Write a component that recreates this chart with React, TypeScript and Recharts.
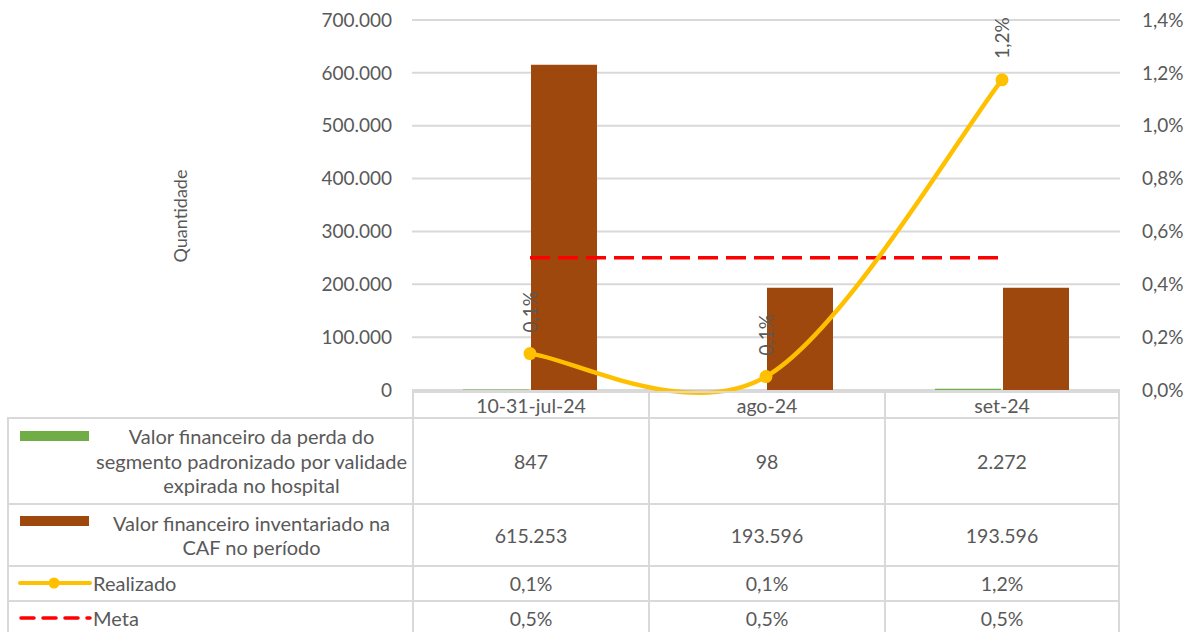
import React from "react";
import { ComposedChart, Bar, Line, XAxis, YAxis, CartesianGrid, LabelList, Label } from "recharts";

const categories = ["10-31-jul-24", "ago-24", "set-24"];
const perda = [847, 98, 2272];
const inventariado = [615253, 193596, 193596];
const meta = [0.005, 0.005, 0.005];
const leftTicks = [0, 100000, 200000, 300000, 400000, 500000, 600000, 700000];
const rightTicks = [0, 0.002, 0.004, 0.006, 0.008, 0.01, 0.012, 0.014];

const seriesNames = [
  "Valor financeiro da perda do segmento padronizado por validade expirada no hospital",
  "Valor financeiro inventariado na CAF no período",
  "Realizado",
  "Meta",
];

const data = categories.map((c, i) => ({
  name: c,
  perda: perda[i],
  inventariado: inventariado[i],
  realizado: perda[i] / inventariado[i],
  meta: meta[i],
}));

const FONT = "Lato, 'Noto Sans', sans-serif";
const TEXT = "#595959";
const GRID = "#d9d9d9";

const fmtNum = (n: number) => Math.round(n).toString().replace(/\B(?=(\d{3})+(?!\d))/g, ".");
const fmtPct = (v: number) => (v * 100).toFixed(1).replace(".", ",") + "%";

const PLOT_LEFT = 412;
const PLOT_RIGHT = 1120;
const PLOT_TOP = 20;
const PLOT_BOTTOM = 390;
const COL_W = (PLOT_RIGHT - PLOT_LEFT) / 3;

// Excel-style smoothed line (Catmull-Rom as cubic beziers)
function excelSmooth(context: any) {
  let pts: [number, number][] = [];
  return {
    areaStart() {},
    areaEnd() {},
    lineStart() {
      pts = [];
    },
    point(x: number, y: number) {
      pts.push([+x, +y]);
    },
    lineEnd() {
      if (!pts.length) return;
      context.moveTo(pts[0][0], pts[0][1]);
      for (let i = 0; i < pts.length - 1; i++) {
        const p0 = pts[i - 1] ?? pts[i];
        const p1 = pts[i];
        const p2 = pts[i + 1];
        const p3 = pts[i + 2] ?? pts[i + 1];
        context.bezierCurveTo(
          p1[0] + (p2[0] - p0[0]) / 6,
          p1[1] + (p2[1] - p0[1]) / 6,
          p2[0] - (p3[0] - p1[0]) / 6,
          p2[1] - (p3[1] - p1[1]) / 6,
          p2[0],
          p2[1]
        );
      }
    },
  };
}

function RotLabel(props: any) {
  const { x, y, value } = props;
  const tx = x + 7;
  const ty = y - 21;
  return (
    <text
      x={tx}
      y={ty}
      transform={`rotate(-90 ${tx} ${ty})`}
      fill={TEXT}
      fontSize={19}
      fontFamily={FONT}
      textAnchor="start"
    >
      {fmtPct(value)}
    </text>
  );
}

function LegendKey({ kind }: { kind: number }) {
  if (kind === 0 || kind === 1) {
    return (
      <div
        style={{
          position: "absolute",
          left: 11,
          top: kind === 0 ? 12 : 11,
          width: 69,
          height: 10,
          background: kind === 0 ? "#70AD47" : "#9E480E",
        }}
      />
    );
  }
  if (kind === 2) {
    return (
      <svg style={{ position: "absolute", left: 9, top: 7 }} width={74} height={18}>
        <line x1={2} y1={9} x2={72} y2={9} stroke="#FFC000" strokeWidth={4} strokeLinecap="round" />
        <circle cx={36} cy={9} r={5.5} fill="#FFC000" />
      </svg>
    );
  }
  return (
    <svg style={{ position: "absolute", left: 9, top: 7 }} width={74} height={18}>
      <line x1={3} y1={9} x2={72} y2={9} stroke="#FF0000" strokeWidth={3.5} strokeDasharray="13 9" strokeLinecap="round" />
    </svg>
  );
}

const rowTops = [417, 503, 565, 600];
const rowHeights = [86, 62, 35, 40];

function DataTable() {
  const rowValues = [
    perda.map(fmtNum),
    inventariado.map(fmtNum),
    data.map((d) => fmtPct(d.realizado)),
    meta.map(fmtPct),
  ];
  const border = `2px solid ${GRID}`;
  const cells: React.ReactNode[] = [];
  categories.forEach((c, i) => {
    cells.push(
      <div
        key={"h" + i}
        style={{
          position: "absolute",
          left: PLOT_LEFT + i * COL_W,
          top: 391,
          width: COL_W,
          height: 26,
          borderTop: border,
          borderLeft: border,
          borderRight: i === 2 ? border : undefined,
          boxSizing: "border-box",
          display: "flex",
          alignItems: "center",
          justifyContent: "center",
          fontSize: 19.5,
        }}
      >
        {c}
      </div>
    );
  });
  rowValues.forEach((vals, r) => {
    cells.push(
      <div
        key={"l" + r}
        style={{
          position: "absolute",
          left: 7,
          top: rowTops[r],
          width: PLOT_LEFT - 7,
          height: rowHeights[r],
          borderTop: border,
          borderLeft: border,
          boxSizing: "border-box",
        }}
      >
        <LegendKey kind={r} />
        <div
          style={{
            position: "absolute",
            left: 82,
            right: 0,
            top: 0,
            bottom: r === 3 ? 6 : 0,
            display: "flex",
            alignItems: "center",
            justifyContent: r < 2 ? "center" : "flex-start",
            textAlign: "center",
            lineHeight: "24.5px",
            fontSize: 20,
            whiteSpace: "nowrap",
            padding: r < 2 ? "0" : "0 0 0 2px",
          }}
        >
          {r === 0 ? (
            <span>
              Valor financeiro da perda do
              <br />
              segmento padronizado por validade
              <br />
              expirada no hospital
            </span>
          ) : r === 1 ? (
            <span>
              Valor financeiro inventariado na
              <br />
              CAF no período
            </span>
          ) : (
            <span>{seriesNames[r]}</span>
          )}
        </div>
      </div>
    );
    vals.forEach((v, i) => {
      cells.push(
        <div
          key={"c" + r + "-" + i}
          style={{
            position: "absolute",
            left: PLOT_LEFT + i * COL_W,
            top: rowTops[r],
            width: COL_W,
            height: rowHeights[r],
            borderTop: border,
            borderLeft: border,
            borderRight: i === 2 ? border : undefined,
            boxSizing: "border-box",
            display: "flex",
            alignItems: "center",
            justifyContent: "center",
            paddingBottom: r === 3 ? 6 : 0,
            fontSize: 19.5,
          }}
        >
          {v}
        </div>
      );
    });
  });
  return <>{cells}</>;
}

export default function App() {
  return (
    <div
      style={{
        position: "absolute",
        left: 0,
        top: 0,
        width: 1187,
        height: 632,
        overflow: "hidden",
        background: "#fff",
        fontFamily: FONT,
        color: TEXT,
      }}
    >
      <ComposedChart
        width={1187}
        height={632}
        data={data}
        margin={{ top: PLOT_TOP, right: 0, left: 0, bottom: 632 - PLOT_BOTTOM }}
        barGap={2}
        barSize={66}
      >
        <CartesianGrid yAxisId="left" vertical={false} stroke={GRID} strokeWidth={2} />
        <XAxis dataKey="name" hide />
        <YAxis
          yAxisId="left"
          orientation="left"
          width={PLOT_LEFT}
          domain={[0, 700000]}
          ticks={leftTicks}
          tickFormatter={fmtNum}
          axisLine={false}
          tickLine={false}
          tickMargin={14}
          tick={{ fontSize: 19, fill: TEXT, fontFamily: FONT }}
          interval={0}
        >
          <Label
            value="Quantidade"
            position="center"
            content={() => (
              <text
                x={187}
                y={216}
                transform="rotate(-90 187 216)"
                textAnchor="middle"
                fill={TEXT}
                fontSize={18}
                fontFamily={FONT}
              >
                Quantidade
              </text>
            )}
          />
        </YAxis>
        <YAxis
          yAxisId="right"
          orientation="right"
          width={1187 - PLOT_RIGHT}
          domain={[0, 0.014]}
          ticks={rightTicks}
          tickFormatter={fmtPct}
          axisLine={false}
          tickLine={false}
          tickMargin={16}
          tick={{ fontSize: 19, fill: TEXT, fontFamily: FONT, textAnchor: "start" }}
          interval={0}
        />
        <Bar yAxisId="left" dataKey="perda" fill="#70AD47" isAnimationActive={false} />
        <Bar yAxisId="left" dataKey="inventariado" fill="#9E480E" isAnimationActive={false} />
        <Line
          yAxisId="right"
          dataKey="meta"
          stroke="#FF0000"
          strokeWidth={3.5}
          strokeDasharray="20 8"
          dot={false}
          activeDot={false}
          isAnimationActive={false}
        />
        <Line
          yAxisId="right"
          type={excelSmooth as any}
          dataKey="realizado"
          stroke="#FFC000"
          strokeWidth={4.5}
          dot={{ r: 6.5, fill: "#FFC000", stroke: "#FFC000", strokeWidth: 0 }}
          activeDot={false}
          isAnimationActive={false}
        >
          <LabelList dataKey="realizado" content={RotLabel} />
        </Line>
      </ComposedChart>
      <DataTable />
    </div>
  );
}
